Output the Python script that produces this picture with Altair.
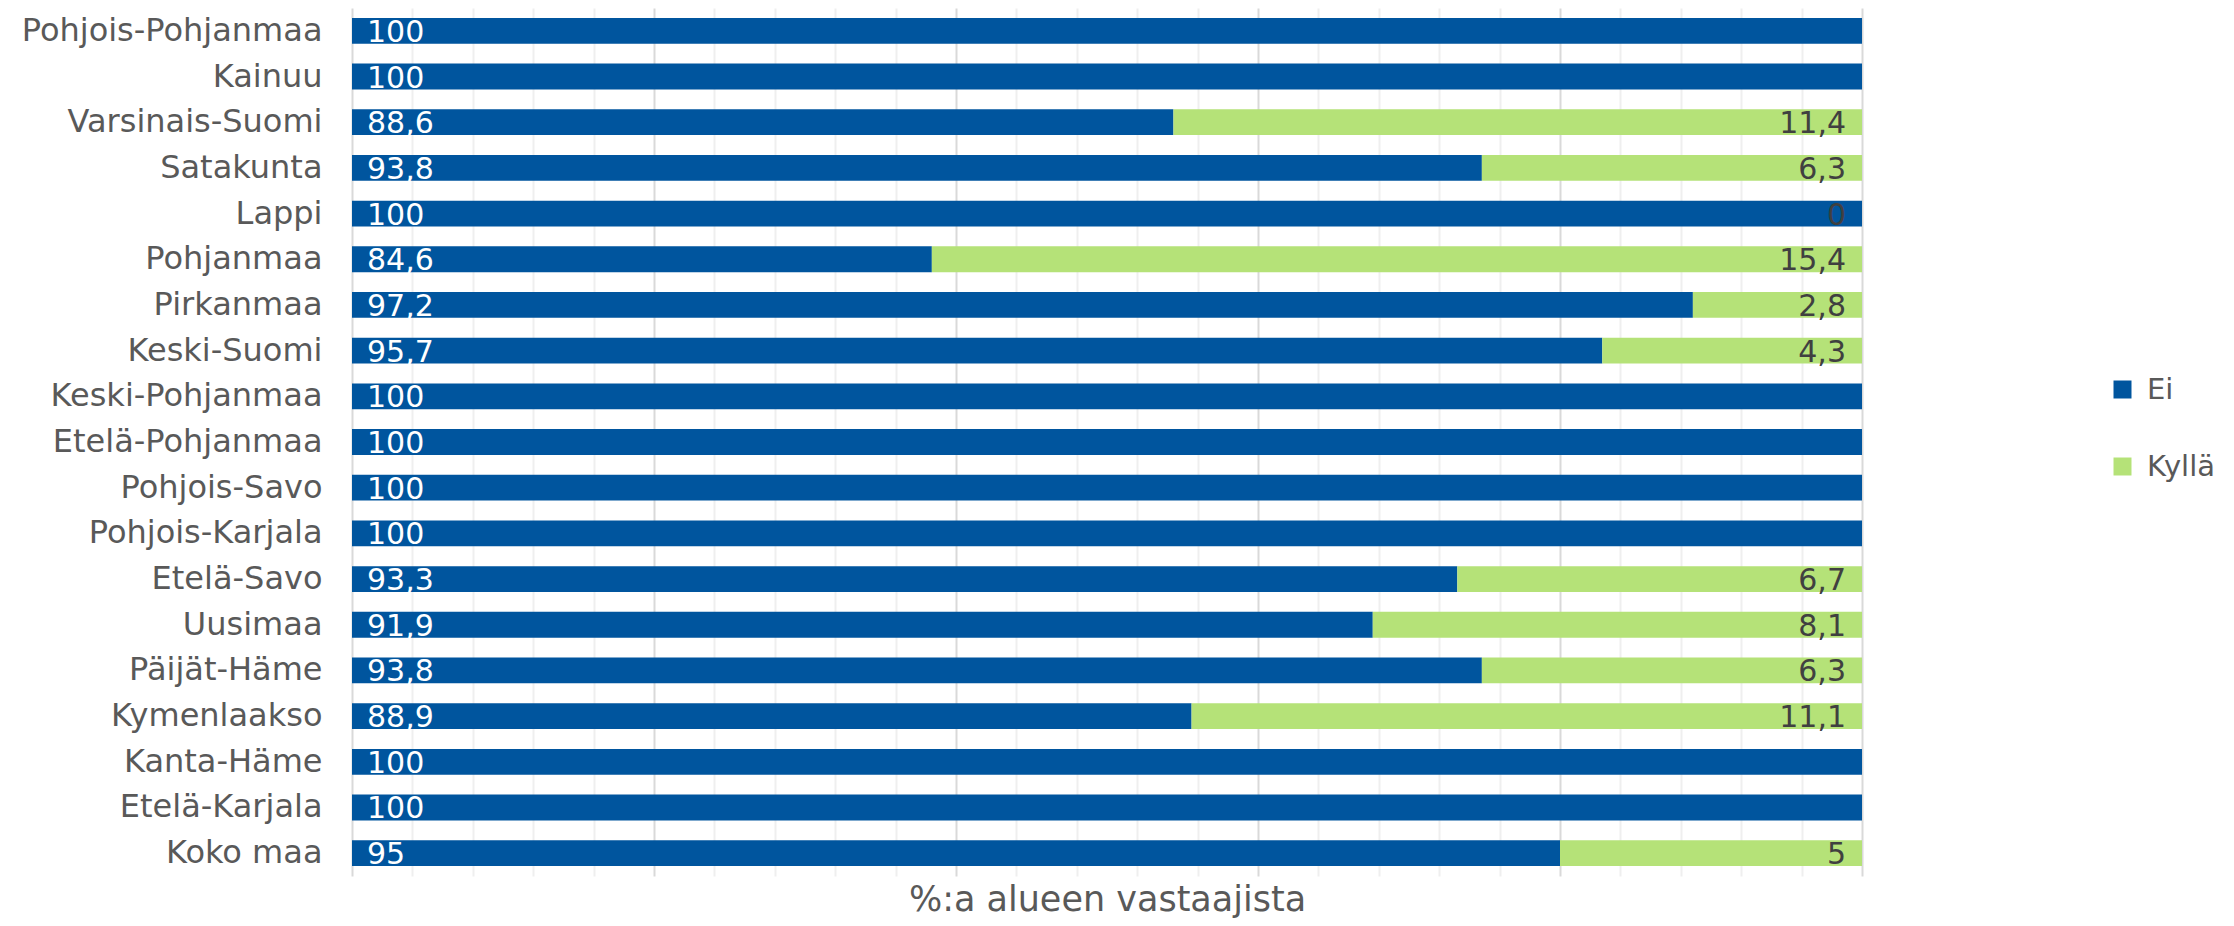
import altair as alt
import pandas as pd

regions = ["Pohjois-Pohjanmaa", "Kainuu", "Varsinais-Suomi", "Satakunta", "Lappi",
           "Pohjanmaa", "Pirkanmaa", "Keski-Suomi", "Keski-Pohjanmaa", "Etelä-Pohjanmaa",
           "Pohjois-Savo", "Pohjois-Karjala", "Etelä-Savo", "Uusimaa", "Päijät-Häme",
           "Kymenlaakso", "Kanta-Häme", "Etelä-Karjala", "Koko maa"]
ei = [100, 100, 88.6, 93.8, 100, 84.6, 97.2, 95.7, 100, 100, 100, 100, 93.3, 91.9, 93.8, 88.9, 100, 100, 95]
kylla = [None, None, 11.4, 6.3, 0, 15.4, 2.8, 4.3, None, None, None, None, 6.7, 8.1, 6.3, 11.1, None, None, 5]
series = ["Ei", "Kyllä"]
colors = ["#00559E", "#B5E278"]
axis_min, axis_max = 0.75, 1.0
grid_values = [v / 100 for v in range(75, 101)]


def fmt(v):
    if v is None:
        return ""
    if float(v).is_integer():
        return str(int(v))
    return str(v).replace(".", ",")


rows = []
for i, r in enumerate(regions):
    rows.append(dict(region=r, series="Ei", value=ei[i], order=0, label=fmt(ei[i])))
    k = kylla[i]
    rows.append(dict(region=r, series="Kyllä", value=(k if k is not None else 0), order=1, label=fmt(k)))
df = pd.DataFrame(rows)

FONT = "DejaVu Sans"

base = alt.Chart(df).transform_stack(
    stack="value", groupby=["region"], as_=["v0", "v1"], offset="normalize",
    sort=[alt.SortField("order", order="ascending")]
)

y = alt.Y("region:N", sort=regions,
          scale=alt.Scale(paddingInner=0.435, paddingOuter=0.2175),
          axis=alt.Axis(title=None, ticks=False, domain=False, grid=False,
                        labelFontSize=32, labelColor="#595959", labelFont=FONT,
                        labelPadding=30, labelLimit=500))

xaxis = alt.Axis(values=grid_values, labels=False, ticks=False, domain=False,
                 grid=True, gridWidth=2,
                 gridColor={"condition": {"test": "round(datum.value*100) % 5 === 0", "value": "#d9d9d9"},
                            "value": "#efefef"},
                 title="%:a alueen vastaajista", titleFontSize=35, titleColor="#595959",
                 titleFont=FONT, titleFontWeight="normal", titlePadding=6)

xscale = alt.Scale(domain=[axis_min, axis_max], nice=False, zero=False, clamp=True)

bars = base.mark_bar().encode(
    x=alt.X("v0:Q", scale=xscale, axis=xaxis),
    x2="v1:Q",
    y=y,
    color=alt.Color("series:N", scale=alt.Scale(domain=series, range=colors),
                    legend=alt.Legend(title=None, orient="none", legendX=1756, legendY=367,
                                      symbolType="square", symbolSize=324, symbolStrokeWidth=0,
                                      labelFontSize=29, labelFont=FONT, labelColor="#595959",
                                      rowPadding=47, labelOffset=10, padding=0)),
)

ei_text = base.transform_filter("datum.series == 'Ei'").mark_text(
    align="left", baseline="middle", dx=15, dy=2, color="white", fontSize=30, font=FONT
).encode(x=alt.X("v0:Q", scale=xscale), y=y, text="label:N")

ky_text = base.transform_filter("datum.series == 'Kyllä' && datum.label != ''").mark_text(
    align="right", baseline="middle", dx=-16, dy=2, color="#404040", fontSize=30, font=FONT
).encode(x=alt.X("v1:Q", scale=xscale), y=y, text="label:N")

chart = alt.layer(bars, ei_text, ky_text).properties(
    width=1510, height=868,
    autosize=alt.AutoSizeParams(type="none"),
    padding={"left": 344, "top": 0, "right": 360, "bottom": 46},
    background="white",
).configure_view(stroke=None)

chart.save("out.html", embed_options={"renderer": "svg", "actions": False})
